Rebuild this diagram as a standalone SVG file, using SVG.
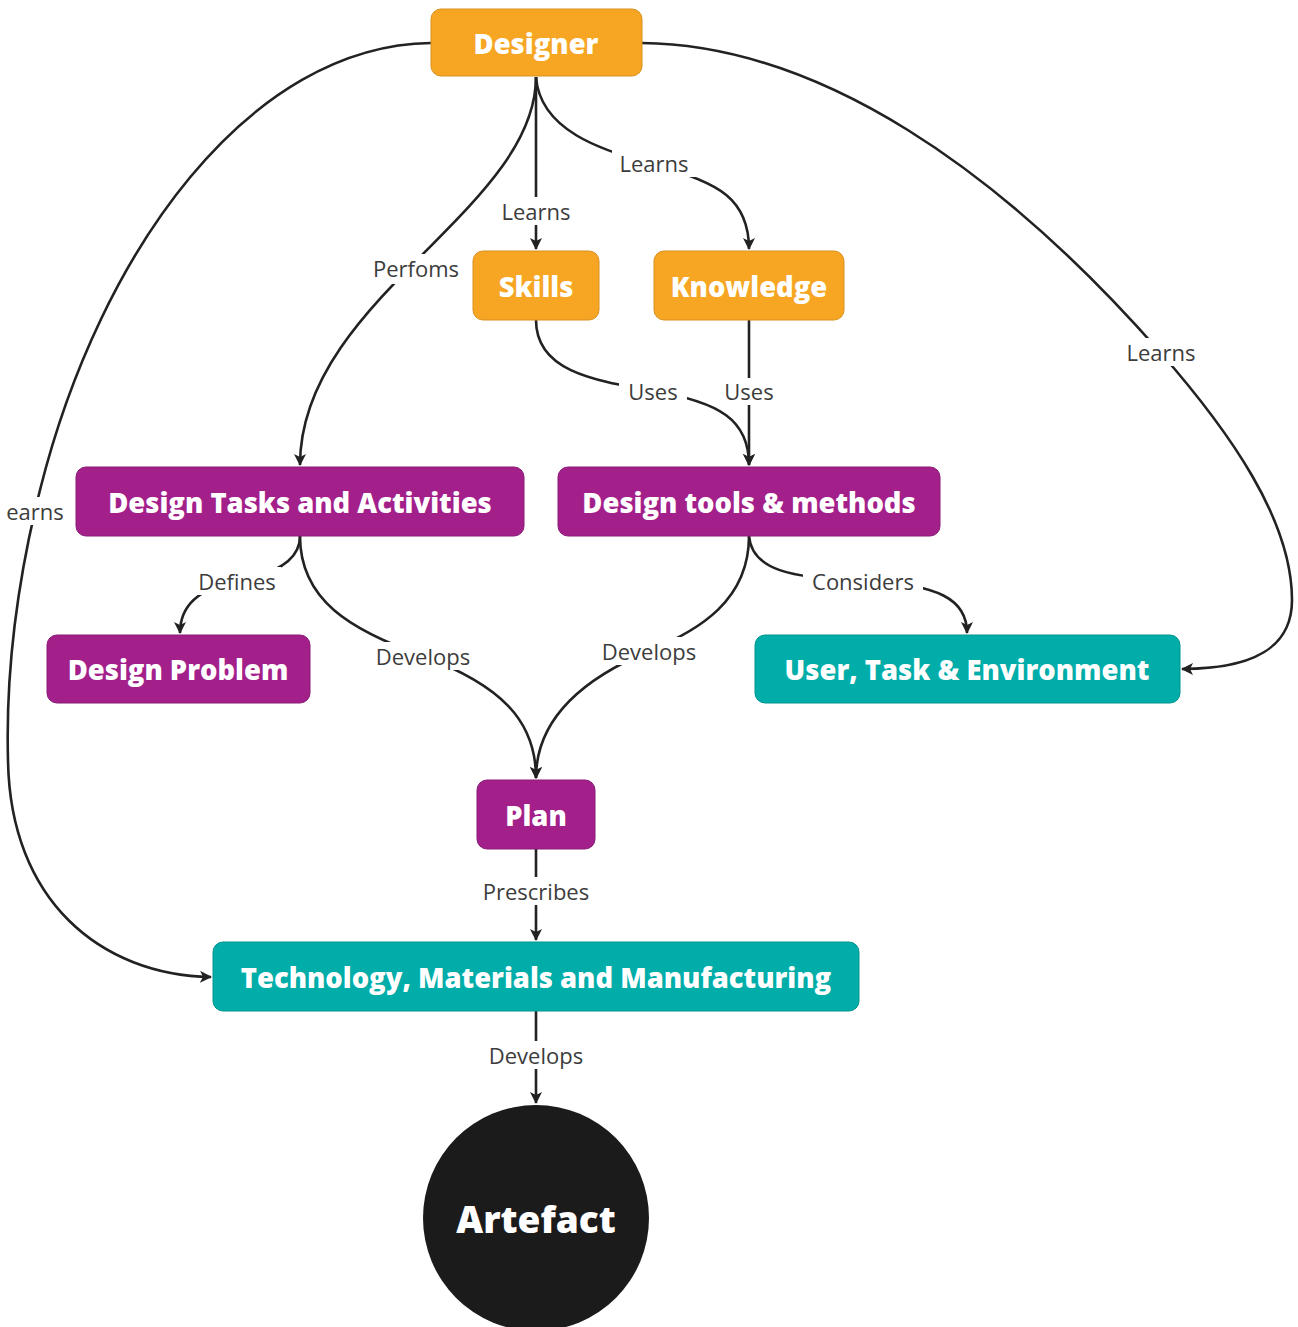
<svg xmlns="http://www.w3.org/2000/svg" width="1298" height="1327" viewBox="0 0 1298 1327">
<defs>
<marker id="arr" viewBox="0 0 12 12" refX="11" refY="6" markerWidth="12" markerHeight="12" markerUnits="userSpaceOnUse" orient="auto">
<path d="M0,0 L12,6 L0,12 L3,6 z" fill="#222"/>
</marker>
<style>
.edge{fill:none;stroke:#222;stroke-width:2.6;}
.lbl{font-family:"Open Sans","Noto Sans","Liberation Sans",sans-serif;font-size:22px;fill:#3c3c3c;text-anchor:middle;dominant-baseline:central;}
.lb{fill:#fff;}
.nt{font-family:"Open Sans","Noto Sans","Liberation Sans",sans-serif;font-weight:800;font-size:27.4px;fill:#fff;text-anchor:middle;dominant-baseline:central;}
.or{fill:#F6A623;stroke:#D99020;stroke-width:1;}
.pu{fill:#A3208B;stroke:#8A1A75;stroke-width:1;}
.te{fill:#00ADA9;stroke:#00958F;stroke-width:1;}
</style>
</defs>
<rect width="1298" height="1327" fill="#fff"/>
<g id="connectors">
<path class="edge" d="M536,77 L536,249" marker-end="url(#arr)"/>
<path class="edge" d="M536,77 C540,130 600,150 654,165 C720,182 749,200 749,249" marker-end="url(#arr)"/>
<path class="edge" d="M536,77 C536,210 300,300 300,465" marker-end="url(#arr)"/>
<path class="edge" d="M431,43 C250,45 100,250 40,490 C25,550 5,650 8,760 C10,900 100,975 211,977" marker-end="url(#arr)"/>
<path class="edge" d="M642,43 C820,45 1000,170 1160,352 C1230,432 1292,520 1292,600 C1292,650 1250,669 1182,669" marker-end="url(#arr)"/>
<path class="edge" d="M536,320 C536,370 590,380 653,391 C720,402 749,420 749,465" marker-end="url(#arr)"/>
<path class="edge" d="M749,320 L749,465" marker-end="url(#arr)"/>
<path class="edge" d="M300,536 C300,562 270,575 237,581 C200,588 180,605 180,633" marker-end="url(#arr)"/>
<path class="edge" d="M300,536 C300,600 350,630 423,656 C500,685 536,720 536,778" marker-end="url(#arr)"/>
<path class="edge" d="M749,536 C749,600 700,630 649,651 C580,680 536,720 536,778" marker-end="url(#arr)"/>
<path class="edge" d="M749,536 C752,570 790,578 863,581 C940,584 967,600 967,633" marker-end="url(#arr)"/>
<path class="edge" d="M536,849 L536,940" marker-end="url(#arr)"/>
<path class="edge" d="M536,1011 L536,1103" marker-end="url(#arr)"/>
<g id="labels">
<rect class="lb" x="497" y="197" width="78" height="28"/><text class="lbl" x="536" y="211">Learns</text>
<rect class="lb" x="612" y="149" width="84" height="28"/><text class="lbl" x="654" y="163">Learns</text>
<rect class="lb" x="368" y="254" width="96" height="30"/><text class="lbl" x="416" y="268">Perfoms</text>
<rect class="lb" x="3" y="497" width="66" height="28"/><text class="lbl" x="35" y="511">earns</text>
<rect class="lb" x="1121" y="338" width="80" height="28"/><text class="lbl" x="1161" y="352">Learns</text>
<rect class="lb" x="619" y="378" width="68" height="27"/><text class="lbl" x="653" y="391">Uses</text>
<rect class="lb" x="718" y="378" width="62" height="27"/><text class="lbl" x="749" y="391">Uses</text>
<rect class="lb" x="193" y="567" width="88" height="28"/><text class="lbl" x="237" y="581">Defines</text>
<rect class="lb" x="370" y="642" width="106" height="28"/><text class="lbl" x="423" y="656">Develops</text>
<rect class="lb" x="596" y="637" width="106" height="28"/><text class="lbl" x="649" y="651">Develops</text>
<rect class="lb" x="803" y="567" width="120" height="28"/><text class="lbl" x="863" y="581">Considers</text>
<rect class="lb" x="476" y="877" width="120" height="28"/><text class="lbl" x="536" y="891">Prescribes</text>
<rect class="lb" x="483" y="1041" width="106" height="28"/><text class="lbl" x="536" y="1055">Develops</text>
</g>
</g>
<g id="designer"><rect class="or" x="431" y="9" width="211" height="67" rx="10"/><text class="nt" x="536" y="43">Designer</text></g>
<g id="skills"><rect class="or" x="473" y="251" width="126" height="69" rx="10"/><text class="nt" x="536" y="286">Skills</text></g>
<g id="knowledge"><rect class="or" x="654" y="251" width="190" height="69" rx="10"/><text class="nt" x="749" y="286">Knowledge</text></g>
<g id="design-tasks"><rect class="pu" x="76" y="467" width="448" height="69" rx="10"/><text class="nt" x="300" y="502">Design Tasks and Activities</text></g>
<g id="design-tools"><rect class="pu" x="558" y="467" width="382" height="69" rx="10"/><text class="nt" x="749" y="502">Design tools &amp; methods</text></g>
<g id="design-problem"><rect class="pu" x="47" y="635" width="263" height="68" rx="10"/><text class="nt" x="178" y="669">Design Problem</text></g>
<g id="user-task-env"><rect class="te" x="755" y="635" width="425" height="68" rx="10"/><text class="nt" x="967" y="669">User, Task &amp; Environment</text></g>
<g id="plan"><rect class="pu" x="477" y="780" width="118" height="69" rx="10"/><text class="nt" x="536" y="815">Plan</text></g>
<g id="technology"><rect class="te" x="213" y="942" width="646" height="69" rx="10"/><text class="nt" x="536" y="977">Technology, Materials and Manufacturing</text></g>
<g id="artefact"><circle cx="536" cy="1218" r="113" fill="#1b1b1b"/><text class="nt" x="536" y="1218" style="font-size:37px">Artefact</text></g>
</svg>
